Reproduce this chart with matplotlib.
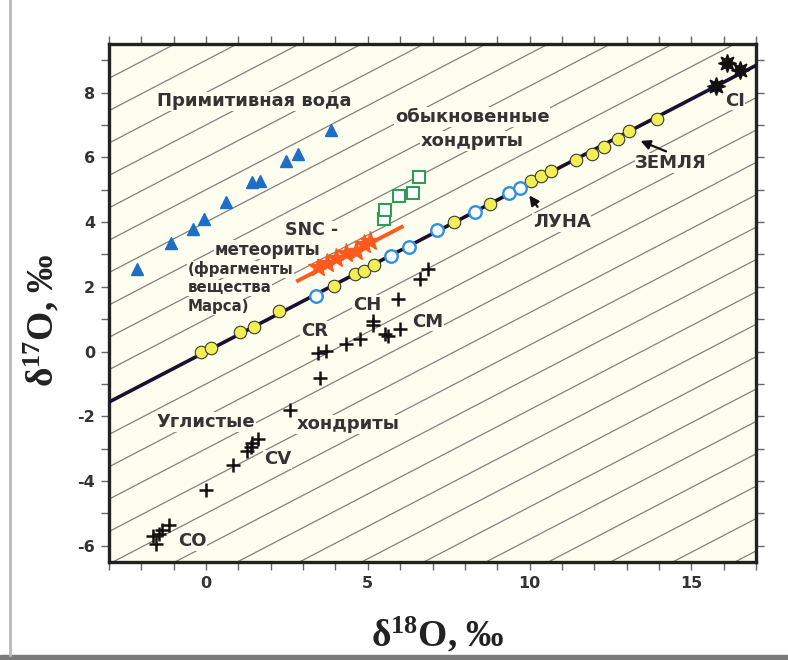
import matplotlib
matplotlib.use('Agg')
import matplotlib.pyplot as plt
from matplotlib.lines import Line2D
from matplotlib.patches import Rectangle

plt.rcParams['axes.unicode_minus'] = False

# ----------------------------------------------------
# Данные (δ18O, δ17O)
# ----------------------------------------------------
voda_x = [-2.14, -1.09, -0.40, -0.06, 0.62, 1.43, 1.68, 2.48, 2.83, 3.85]
voda_y = [2.56, 3.34, 3.80, 4.09, 4.61, 5.23, 5.27, 5.89, 6.10, 6.85]

zemlya_x = [-0.16, 0.16, 1.06, 1.47, 2.27, 3.95, 4.60, 4.89, 5.19, 7.67,
            8.79, 10.05, 10.36, 10.67, 11.43, 11.93, 12.29, 12.72, 13.08, 13.94]
zemlya_y = [0.00, 0.12, 0.61, 0.77, 1.26, 2.04, 2.39, 2.50, 2.67, 4.01,
            4.57, 5.27, 5.42, 5.58, 5.92, 6.11, 6.33, 6.56, 6.80, 7.18]

luna_x = [3.39, 5.71, 6.27, 7.13, 8.32, 9.36, 9.72]
luna_y = [1.71, 2.95, 3.23, 3.75, 4.31, 4.90, 5.06]

obyk_x = [5.50, 5.53, 5.96, 6.40, 6.58]
obyk_y = [4.09, 4.37, 4.80, 4.89, 5.39]

snc_x = [3.45, 3.73, 4.01, 4.32, 4.63, 4.88, 5.06]
snc_y = [2.62, 2.75, 2.88, 3.03, 3.12, 3.31, 3.40]
snc_linia_x = [2.84, 6.05]
snc_linia_y = [2.19, 3.85]

ci_x = [16.09, 16.50, 15.75]
ci_y = [8.92, 8.71, 8.20]

uglist_x = [3.46, 3.72, 3.51, 4.34, 4.75, 5.94, 5.16, 5.16, 5.53, 5.63, 5.99,
            6.61, 6.87, 2.58, 1.43, 1.61, 1.27, 1.40, 0.82, -0.01,
            -1.15, -1.35, -1.45, -1.65, -1.55]
uglist_y = [-0.03, 0.02, -0.81, 0.23, 0.38, 1.62, 0.95, 0.83, 0.54, 0.48, 0.69,
            2.25, 2.56, -1.79, -2.81, -2.71, -3.06, -2.96, -3.50, -4.28,
            -5.35, -5.50, -5.65, -5.70, -5.93]

# линия земного фракционирования
tfl_x = [-3, 17]
tfl_y = [0.52 * x for x in tfl_x]

fon = '#fefef0'
tekst = '#333333'
shrift = 'DejaVu Sans'

fig = plt.figure(figsize=(7.88, 6.6), dpi=100)
ax = fig.add_axes([109 / 788, 1 - 562 / 660, 647 / 788, 518 / 660])
ax.set_facecolor(fon)
ax.set_xlim(-3, 17)
ax.set_ylim(-6.5, 9.5)

# фоновая штриховка, параллельная линии фракционирования
for k in range(-16, 13):
    ax.plot(tfl_x, [0.52 * x + k for x in tfl_x], color='#808080', lw=0.9, zorder=1)

ax.plot(tfl_x, tfl_y, color='#1a1030', lw=2.6, zorder=3)
ax.plot(snc_linia_x, snc_linia_y, color='#ff5a1e', lw=2.8, zorder=3)

ax.plot(voda_x, voda_y, ls='none', marker='^', ms=9, color='#1e6ec8', zorder=4)
ax.plot(zemlya_x, zemlya_y, ls='none', marker='o', ms=9, mfc='#f2ee55', mec='#3a3a30', mew=0.8, zorder=4)
ax.plot(luna_x, luna_y, ls='none', marker='o', ms=9, mfc='white', mec='#2f8fe0', mew=1.7, zorder=4)
ax.plot(obyk_x, obyk_y, ls='none', marker='s', ms=8, mfc='white', mec='#2e9c55', mew=1.5, zorder=4)
ax.plot(snc_x, snc_y, ls='none', marker='*', ms=15, color='#ff5a1e', zorder=5)
ax.plot(ci_x, ci_y, ls='none', marker=(8, 1, 0), ms=13, color='#111111', zorder=5)
ax.plot(uglist_x, uglist_y, ls='none', marker='+', ms=10, mew=1.8, color='#111111', zorder=5)

# подписи
box = dict(facecolor=fon, edgecolor='none', pad=0.5)
def podpis(x, y, s, size=13, ha='center'):
    ax.text(x, y, s, fontsize=size, ha=ha, va='center', color=tekst, family=shrift,
            fontweight='bold', bbox=box, zorder=6)

podpis(-1.52, 7.73, 'Примитивная вода', ha='left')
podpis(8.23, 7.25, 'обыкновенные')
podpis(8.23, 6.51, 'хондриты')
podpis(3.26, 3.74, 'SNC -', size=12.5)
podpis(1.89, 3.15, 'метеориты', size=12)
podpis(-0.56, 2.54, '(фрагменты', size=10.8, ha='left')
podpis(-0.56, 1.97, 'вещества', size=10.8, ha='left')
podpis(-0.56, 1.38, 'Марса)', size=10.8, ha='left')
podpis(10.99, 3.99, 'ЛУНА')
podpis(14.38, 5.83, 'ЗЕМЛЯ')
podpis(16.34, 7.75, 'CI')
podpis(4.97, 1.45, 'CH')
podpis(6.86, 0.92, 'CM')
podpis(3.35, 0.64, 'CR')
podpis(2.20, -3.33, 'CV')
podpis(-0.43, -5.85, 'CO')
podpis(0.0, -2.18, 'Углистые')
podpis(4.38, -2.25, 'хондриты')

strelka = dict(arrowstyle='-|>', color='#111111', lw=1.6, mutation_scale=14)
ax.annotate('', xy=(9.94, 4.89), xytext=(10.30, 4.40), arrowprops=strelka, zorder=6)
ax.annotate('', xy=(13.35, 6.54), xytext=(14.30, 6.15), arrowprops=strelka, zorder=6)

# оси
ax.set_xticks([0, 5, 10, 15])
ax.set_xticks(range(-3, 18), minor=True)
ax.set_yticks(range(-6, 9, 2))
ax.set_yticks(range(-6, 10), minor=True)
ax.tick_params(which='both', direction='out', length=6, width=1, color='#666666',
               top=True, right=True, labelsize=11.5, labelcolor=tekst, pad=4)
for lab in ax.get_xticklabels() + ax.get_yticklabels():
    lab.set_fontweight('bold')
    lab.set_family(shrift)
for sp in ax.spines.values():
    sp.set_linewidth(2.4)
    sp.set_color('#222222')

ax.set_xlabel(r'$\mathregular{\delta^{18}}$O, ‰', fontsize=27, family='Liberation Serif',
              fontweight='bold', color='#222222', va='center')
ax.set_ylabel(r'$\mathregular{\delta^{17}}$O, ‰', fontsize=27, family='Liberation Serif',
              fontweight='bold', color='#222222', va='center')
ax.xaxis.set_label_coords(0.508, -0.141)
ax.yaxis.set_label_coords(-0.104, 0.467)

# рамка рисунка
fig.add_artist(Line2D([10 / 788, 10 / 788], [5 / 660, 1], color='#b8b8b8', lw=2))
fig.add_artist(Rectangle((0, 0), 1, 5 / 660, color='#7a7a7a'))

fig.savefig('out.png', dpi=100)
